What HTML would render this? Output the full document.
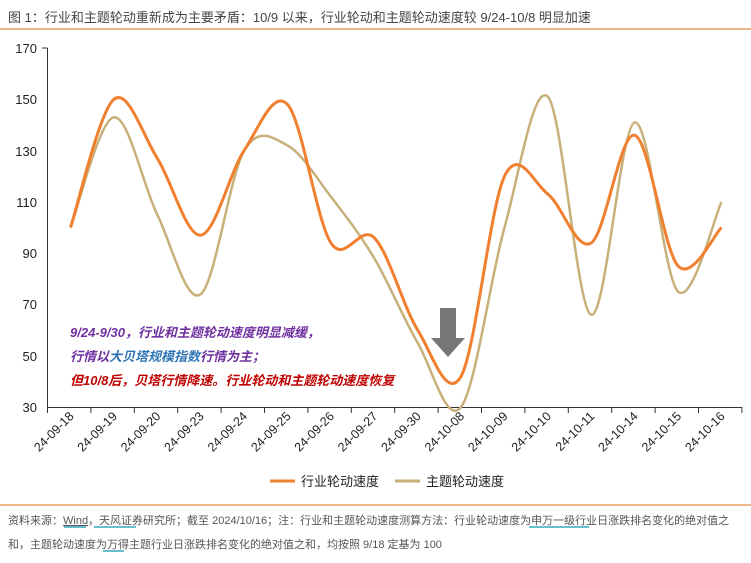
<!DOCTYPE html>
<html><head><meta charset="utf-8"><style>
body{margin:0;background:#fff;width:751px;height:558px;overflow:hidden;font-family:"Liberation Sans","Noto Sans CJK SC",sans-serif}
</style></head><body>
<svg width="751" height="558" xmlns="http://www.w3.org/2000/svg" font-family="Liberation Sans, Noto Sans CJK SC, sans-serif">
<text x="8" y="22" font-size="13" fill="#444">图 1：行业和主题轮动重新成为主要矛盾：10/9 以来，行业轮动和主题轮动速度较 9/24-10/8 明显加速</text>
<line x1="0" y1="29" x2="751" y2="29" stroke="#e8a060" stroke-width="1.5"/>
<g font-size="13" fill="#222" text-anchor="end">
<text x="37" y="53">170</text><text x="37" y="104">150</text><text x="37" y="156">130</text><text x="37" y="207">110</text><text x="37" y="258">90</text><text x="37" y="309">70</text><text x="37" y="361">50</text><text x="37" y="412">30</text>
</g>
<g stroke="#333" stroke-width="1" id="ax">
<line x1="47.5" y1="48" x2="47.5" y2="407"/><line x1="42" y1="48" x2="47.5" y2="48"/>
<line x1="47" y1="407.5" x2="742" y2="407.5"/>
</g>
<g id="xl" font-size="12.5" fill="#222"></g>
<path id="p2" fill="none" stroke="#c8b07a" stroke-width="2.5"/>
<path id="p1" fill="none" stroke="#f08030" stroke-width="3"/>
<polygon points="440,308 456,308 456,338 465,338 448,357 431,338 440,338" fill="#777"/>
<g font-size="13" font-weight="bold" font-style="italic">
<text x="70" y="337" fill="#7030a0">9/24-9/30，行业和主题轮动速度明显减缓，</text>
<text x="70" y="361" fill="#7030a0">行情以<tspan fill="#2e75b6">大贝塔规模指数</tspan>行情为主；</text>
<text x="70" y="385" fill="#c00000">但10/8后，贝塔行情降速。行业轮动和主题轮动速度恢复</text>
</g>
<line x1="270" y1="481" x2="295" y2="481" stroke="#f08030" stroke-width="3"/>
<text x="301" y="486" font-size="13" fill="#222">行业轮动速度</text>
<line x1="395" y1="481" x2="420" y2="481" stroke="#c8b07a" stroke-width="3"/>
<text x="426" y="486" font-size="13" fill="#222">主题轮动速度</text>
<line x1="0" y1="505" x2="751" y2="505" stroke="#e8a060" stroke-width="1.5"/>
<g font-size="11" fill="#555">
<text x="8" y="524">资料来源：<tspan text-decoration="underline">Wind</tspan>，天风证券研究所；截至 2024/10/16；注：行业和主题轮动速度测算方法：行业轮动速度为申万一级行业日涨跌排名变化的绝对值之</text>
<text x="8" y="548">和，主题轮动速度为万得主题行业日涨跌排名变化的绝对值之和，均按照 9/18 定基为 100</text>
</g>
<g stroke="#3ab" stroke-width="1.5"><line x1="64" y1="527" x2="86" y2="527"/><line x1="94" y1="527" x2="136" y2="527"/><line x1="529" y1="527" x2="589" y2="527"/><line x1="103" y1="551" x2="124" y2="551"/></g>
</svg>
<script>
const labs=["24-09-18","24-09-19","24-09-20","24-09-23","24-09-24","24-09-25","24-09-26","24-09-27","24-09-30","24-10-08","24-10-09","24-10-10","24-10-11","24-10-14","24-10-15","24-10-16"];
const a=[100,150,127,97,130,148,94,96,60,42,120,113,94,136,85,100];
const b=[100,143,105,74,130,132,112,88,55,30,100,151,66,141,75,110];
const X=i=>70.5+43.4*i, Y=v=>407-(v-30)*2.564;
function path(d){const p=d.map((v,i)=>[X(i),Y(v)]);let s="M"+p[0];for(let i=0;i<p.length-1;i++){const p0=p[i-1]||p[i],p1=p[i],p2=p[i+1],p3=p[i+2]||p2;const t=6;s+=`C${p1[0]+(p2[0]-p0[0])/t},${p1[1]+(p2[1]-p0[1])/t} ${p2[0]-(p3[0]-p1[0])/t},${p2[1]-(p3[1]-p1[1])/t} ${p2[0]},${p2[1]}`;}return s;}
document.getElementById('p1').setAttribute('d',path(a));
document.getElementById('p2').setAttribute('d',path(b));
const ns="http://www.w3.org/2000/svg",xl=document.getElementById('xl'),ax=document.getElementById('ax');
for(let i=0;i<=16;i++){const l=document.createElementNS(ns,'line');const x=47.5+43.4*i;l.setAttribute('x1',x);l.setAttribute('x2',x);l.setAttribute('y1',407);l.setAttribute('y2',413);ax.appendChild(l);}
labs.forEach((t,i)=>{const e=document.createElementNS(ns,'text');const x=X(i)+4,y=417;e.setAttribute('x',x);e.setAttribute('y',y);e.setAttribute('text-anchor','end');e.setAttribute('transform',`rotate(-45 ${x} ${y})`);e.textContent=t;xl.appendChild(e);});
</script>
</body></html>
